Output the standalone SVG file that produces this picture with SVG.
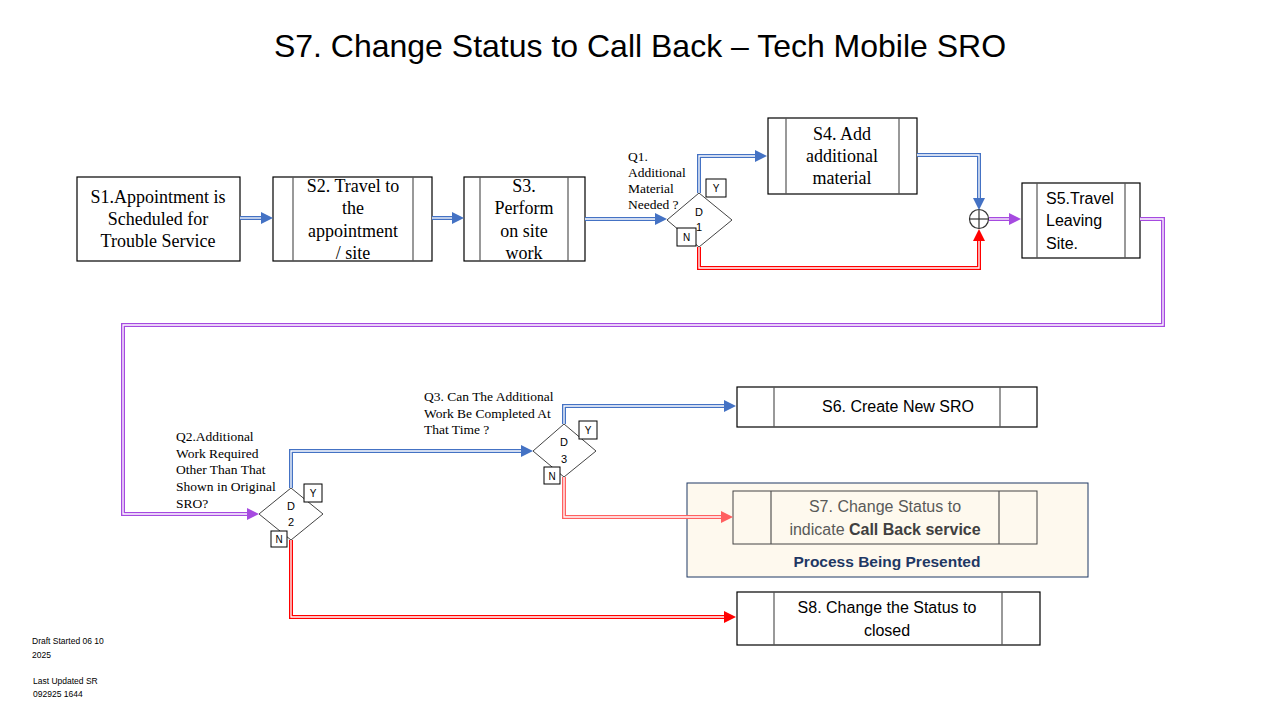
<svg xmlns="http://www.w3.org/2000/svg" width="1280" height="720" viewBox="0 0 1280 720">
<defs>
<style>
.box{fill:#fff;stroke:#000;stroke-width:1.2}
.inner{stroke:#555;stroke-width:1.2}
.serif{font-family:"Liberation Serif","Times New Roman",serif;fill:#000}
.sans{font-family:"Liberation Sans",Arial,sans-serif;fill:#000}
.dia{fill:#fff;stroke:#444;stroke-width:1}
.yn{fill:#fff;stroke:#000;stroke-width:1}
.ol{fill:none;stroke-width:4;stroke-linejoin:miter}
.il{fill:none;stroke:#fff;stroke-width:1.3}
.blue{stroke:#4472c4}
.red{stroke:#ff0000}
.purple{stroke:#a64ae0}
.salmon{stroke:#ff6060}
</style>
<marker id="ab" markerUnits="userSpaceOnUse" markerWidth="12" markerHeight="12" refX="0" refY="6" orient="auto"><path d="M0,0 L12,6 L0,12 z" fill="#4472c4"/></marker>
<marker id="ar" markerUnits="userSpaceOnUse" markerWidth="12" markerHeight="12" refX="0" refY="6" orient="auto"><path d="M0,0 L12,6 L0,12 z" fill="#ff0000"/></marker>
<marker id="as" markerUnits="userSpaceOnUse" markerWidth="12" markerHeight="12" refX="0" refY="6" orient="auto"><path d="M0,0 L12,6 L0,12 z" fill="#ff6060"/></marker>
<marker id="ap" markerUnits="userSpaceOnUse" markerWidth="12" markerHeight="12" refX="0" refY="6" orient="auto"><path d="M0,0 L12,6 L0,12 z" fill="#a64ae0"/></marker>
</defs>
<rect width="1280" height="720" fill="#fff"/>
<text x="640" y="57" text-anchor="middle" class="sans" font-size="32">S7. Change Status to Call Back – Tech Mobile SRO</text>

<g id="S1">
<rect class="box" x="77" y="177" width="163" height="84"/>
<text class="serif" font-size="18" text-anchor="middle" x="158"><tspan x="158" y="203">S1.Appointment is</tspan><tspan x="158" y="225">Scheduled for</tspan><tspan x="158" y="247">Trouble Service</tspan></text>
</g>
<g id="S2">
<rect class="box" x="273" y="177" width="159" height="84"/>
<line class="inner" x1="293" y1="177" x2="293" y2="261"/><line class="inner" x1="413" y1="177" x2="413" y2="261"/>
<text class="serif" font-size="18" text-anchor="middle"><tspan x="353" y="192">S2. Travel to</tspan><tspan x="353" y="214">the</tspan><tspan x="353" y="237">appointment</tspan><tspan x="353" y="259">/ site</tspan></text>
</g>
<g id="S3">
<rect class="box" x="464" y="177" width="121" height="84"/>
<line class="inner" x1="480" y1="177" x2="480" y2="261"/><line class="inner" x1="568" y1="177" x2="568" y2="261"/>
<text class="serif" font-size="18" text-anchor="middle"><tspan x="524" y="192">S3.</tspan><tspan x="524" y="214">Perform</tspan><tspan x="524" y="237">on site</tspan><tspan x="524" y="259">work</tspan></text>
</g>
<g id="D1">
<text class="serif" font-size="13.5"><tspan x="628" y="161">Q1.</tspan><tspan x="628" y="177">Additional</tspan><tspan x="628" y="193">Material</tspan><tspan x="628" y="209">Needed ?</tspan></text>
<polygon class="dia" points="667,220 699,193 732,220 699,247"/>
<text class="sans" font-size="11" text-anchor="middle"><tspan x="699" y="216">D</tspan><tspan x="699" y="231">1</tspan></text>
<rect class="yn" x="706" y="179" width="20" height="18"/><text class="sans" font-size="10" text-anchor="middle" x="716" y="192">Y</text>
<rect class="yn" x="677" y="228" width="19" height="18"/><text class="sans" font-size="10" text-anchor="middle" x="686.5" y="241">N</text>
</g>
<g id="S4">
<rect class="box" x="768" y="118" width="149" height="76"/>
<line class="inner" x1="786" y1="118" x2="786" y2="194"/><line class="inner" x1="899" y1="118" x2="899" y2="194"/>
<text class="serif" font-size="18" text-anchor="middle"><tspan x="842" y="140">S4. Add</tspan><tspan x="842" y="162">additional</tspan><tspan x="842" y="184">material</tspan></text>
</g>
<g id="S5">
<rect class="box" x="1022" y="183" width="118" height="75"/>
<line class="inner" x1="1037" y1="183" x2="1037" y2="258"/><line class="inner" x1="1125" y1="183" x2="1125" y2="258"/>
<text class="sans" font-size="16"><tspan x="1046" y="204">S5.Travel</tspan><tspan x="1046" y="226">Leaving</tspan><tspan x="1046" y="249">Site.</tspan></text>
</g>
<g id="D2">
<text class="serif" font-size="13.5"><tspan x="176" y="441">Q2.Additional</tspan><tspan x="176" y="458">Work Required</tspan><tspan x="176" y="474">Other Than That</tspan><tspan x="176" y="491">Shown in Original</tspan><tspan x="176" y="508">SRO?</tspan></text>
<polygon class="dia" points="259,514 291,488 323,514 291,540"/>
<text class="sans" font-size="11" text-anchor="middle"><tspan x="291" y="510">D</tspan><tspan x="291" y="526">2</tspan></text>
<rect class="yn" x="304" y="484" width="18" height="18"/><text class="sans" font-size="10" text-anchor="middle" x="313" y="497">Y</text>
<rect class="yn" x="271" y="531" width="16" height="16"/><text class="sans" font-size="10" text-anchor="middle" x="279" y="543">N</text>
</g>
<g id="D3">
<text class="serif" font-size="13.5"><tspan x="424" y="401">Q3. Can The Additional</tspan><tspan x="424" y="418">Work Be Completed At</tspan><tspan x="424" y="434">That Time ?</tspan></text>
<polygon class="dia" points="533,451 564,424 596,451 564,477"/>
<text class="sans" font-size="11" text-anchor="middle"><tspan x="564" y="446">D</tspan><tspan x="564" y="463">3</tspan></text>
<rect class="yn" x="579" y="421" width="18" height="18"/><text class="sans" font-size="10" text-anchor="middle" x="588" y="434">Y</text>
<rect class="yn" x="544" y="467" width="16" height="17"/><text class="sans" font-size="10" text-anchor="middle" x="552" y="480">N</text>
</g>
<g id="S6">
<rect class="box" x="737" y="387" width="300" height="40"/>
<line class="inner" x1="774" y1="387" x2="774" y2="427"/><line class="inner" x1="1000" y1="387" x2="1000" y2="427"/>
<text class="sans" font-size="16" text-anchor="middle" x="898" y="412">S6. Create New SRO</text>
</g>
<g id="S7">
<rect x="687" y="483" width="401" height="94" fill="#fef9ee" stroke="#1f3864" stroke-width="1"/>
<rect x="733" y="491" width="304" height="53" fill="none" stroke="#444" stroke-width="1"/>
<line class="inner" x1="771" y1="491" x2="771" y2="544"/><line class="inner" x1="999" y1="491" x2="999" y2="544"/>
<text class="sans" font-size="16" text-anchor="middle" style="fill:#595959"><tspan x="885" y="512">S7. Change Status to</tspan><tspan x="885" y="535">indicate <tspan font-weight="bold" style="fill:#404040">Call Back service</tspan></tspan></text>
<text class="sans" font-size="15.5" font-weight="bold" text-anchor="middle" x="887" y="567" style="fill:#1f3864">Process Being Presented</text>
</g>
<g id="S8">
<rect class="box" x="737" y="592" width="303" height="53"/>
<line class="inner" x1="774" y1="592" x2="774" y2="645"/><line class="inner" x1="1002" y1="592" x2="1002" y2="645"/>
<text class="sans" font-size="16" text-anchor="middle"><tspan x="887" y="613">S8. Change the Status to</tspan><tspan x="887" y="636">closed</tspan></text>
</g>
<g id="J1">
<circle cx="979" cy="219" r="9.5" fill="#fff" stroke="#333" stroke-width="1.2"/>
<line x1="969.5" y1="219" x2="988.5" y2="219" stroke="#333" stroke-width="1.2"/>
<line x1="979" y1="209.5" x2="979" y2="228.5" stroke="#333" stroke-width="1.2"/>
</g>

<g id="connectors">
<path class="ol blue" d="M240,218 H261" marker-end="url(#ab)"/>
<path class="il" d="M240,218 H261"/>
<path class="ol blue" d="M432,218 H452" marker-end="url(#ab)"/>
<path class="il" d="M432,218 H452"/>
<path class="ol blue" d="M585,219 H655" marker-end="url(#ab)"/>
<path class="il" d="M585,219 H655"/>
<path class="ol blue" d="M699,193 V156 H755" marker-end="url(#ab)"/>
<path class="il" d="M699,193 V156 H755"/>
<path class="ol blue" d="M917,155 H979 V198" marker-end="url(#ab)"/>
<path class="il" d="M917,155 H979 V198"/>
<path class="ol red" d="M699,247 V268 H979 V241" marker-end="url(#ar)"/>
<path class="il" d="M699,247 V268 H979 V241"/>
<path class="ol purple" d="M989,219 H1009" marker-end="url(#ap)"/>
<path class="il" d="M989,219 H1009"/>
<path class="ol purple" d="M1140,219 H1163 V325 H123 V514 H247" marker-end="url(#ap)"/>
<path class="il" d="M1140,219 H1163 V325 H123 V514 H247"/>
<path class="ol blue" d="M291,488 V451 H521" marker-end="url(#ab)"/>
<path class="il" d="M291,488 V451 H521"/>
<path class="ol blue" d="M564,424 V406 H724" marker-end="url(#ab)"/>
<path class="il" d="M564,424 V406 H724"/>
<path class="ol salmon" d="M564,477 V517 H721" marker-end="url(#as)"/>
<path class="il" d="M564,477 V517 H721"/>
<path class="ol red" d="M291,540 V617 H724" marker-end="url(#ar)"/>
<path class="il" d="M291,540 V617 H724"/>
</g>

<g id="footer">
<text class="sans" font-size="8.5"><tspan x="32" y="644">Draft Started 06 10</tspan><tspan x="32" y="658">2025</tspan><tspan x="33" y="684">Last Updated SR</tspan><tspan x="33" y="697">092925 1644</tspan></text>
</g>
</svg>
